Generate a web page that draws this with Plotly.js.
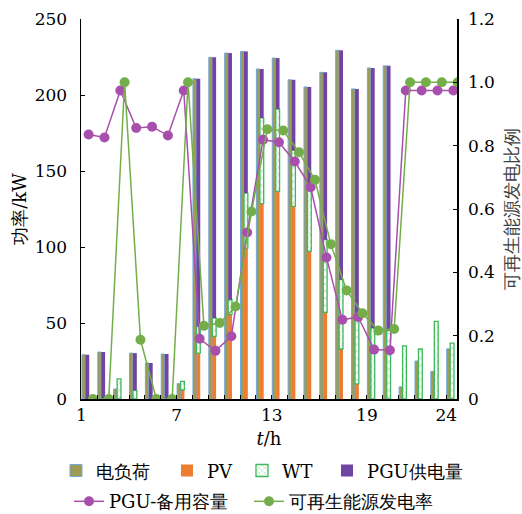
<!DOCTYPE html>
<html>
<head>
<meta charset="utf-8">
<script src="https://cdn.plot.ly/plotly-3.0.1.min.js"></script>
<style>html,body{margin:0;padding:0;background:#fff;}#chart{width:522px;height:514px;}</style>
</head>
<body>
<div id="chart"></div>
<script>
// ---- data ----
const hours = [1,2,3,4,5,6,7,8,9,10,11,12,13,14,15,16,17,18,19,20,21,22,23,24];
const load = [29.1,30.9,6.6,30.2,23.7,29.6,10.1,210.7,224.8,227.6,228.7,217.1,224.3,210.0,205.3,214.9,229.4,204.0,217.8,219.2,8.0,25.0,18.2,33.0];
const pv   = [0,0,0,0,0,0,6.0,30.2,41.2,55.5,99.3,128.5,136.6,126.7,97.1,57.0,32.9,9.9,0,0,0,0,0,0];
const wt   = [0,0,13.2,5.7,0,0,5.6,17.6,12.1,9.8,36.2,56.4,54.2,36.9,43.9,47.8,45.6,43.4,46.7,45.0,35.0,32.9,51.1,36.8];
const pgu  = [29.1,30.9,0,24.5,23.7,29.6,0,162.9,171.5,162.3,93.2,32.2,33.5,46.4,64.3,110.1,150.9,150.7,171.1,174.2,0,0,0,0];
const pguReserve = [0.835,0.826,0.974,0.856,0.860,0.832,0.974,0.190,0.152,0.198,0.526,0.819,0.811,0.750,0.669,0.447,0.250,0.259,0.156,0.154,0.974,0.974,0.974,0.974];
const renewRate  = [0,0,1.0,0.187,0,0,1.0,0.231,0.240,0.292,0.592,0.852,0.848,0.779,0.692,0.489,0.343,0.271,0.216,0.221,1.0,1.0,1.0,1.0];
const xTicks = [1,7,13,19,24];
const y2TickVals = [0,0.2,0.4,0.6,0.8,1.0,1.2];
const y2TickText = ["0","0.2","0.4","0.6","0.8","1.0","1.2"];
const names = ["电负荷","PV","WT","PGU供电量","PGU-备用容量","可再生能源发电率"];

// ---- styling ----
const FONT = "DejaVu Serif";
const FS = 17, LFS = 18;
const loadOff = 0.03, loadW = 0.22, stackOff = 0.25, stackW = 0.24;
const wtBase = pv.map(v=>v);
const pguBase = pv.map((v,i)=>v + wt[i]);
const xPurple = hours.map(h=>h+0.45);
const xGreen = hours.map(h=>h+0.72);

const traces = [
  {type:'bar', name:names[0], x:hours, y:load, offset:loadOff, width:loadW,
   marker:{color:'#A09B52', line:{color:'#6FA8DC', width:1}}, legend:'legend'},
  {type:'bar', name:names[1], x:hours, y:pv, offset:stackOff, width:stackW,
   marker:{color:'#ED7D31', line:{width:0}}, legend:'legend2'},
  {type:'bar', name:names[2], x:hours, y:wt, base:wtBase, offset:stackOff, width:stackW,
   marker:{color:'#ffffff', line:{color:'#3DB85C', width:1.3},
           pattern:{shape:'x', fgcolor:'#A8DDB2', bgcolor:'#ffffff', size:5, solidity:0.25}}, legend:'legend3'},
  {type:'bar', name:names[3], x:hours, y:pgu, base:pguBase, offset:stackOff, width:stackW,
   marker:{color:'#7144A4', line:{width:0}}, legend:'legend4'},
  {type:'scatter', mode:'lines+markers', name:names[4], x:xPurple, y:pguReserve, yaxis:'y2',
   line:{color:'#A84FAE', width:1.5}, marker:{color:'#A84FAE', size:10}, legend:'legend5'},
  {type:'scatter', mode:'lines+markers', name:names[5], x:xGreen, y:renewRate, yaxis:'y2',
   line:{color:'#74AE4A', width:1.5}, marker:{color:'#74AE4A', size:10}, legend:'legend6'}
];

function leg(x, y) {
  return {orientation:'h', x:x, xanchor:'left', y:y, yanchor:'middle',
          font:{family:FONT, size:LFS, color:'#000'}, bgcolor:'rgba(0,0,0,0)', itemwidth:30};
}

const layout = {
  width:522, height:514,
  margin:{l:81, r:65, t:19, b:115, autoexpand:false},
  paper_bgcolor:'#fff', plot_bgcolor:'#fff',
  font:{family:FONT, size:FS, color:'#000'},
  barmode:'overlay',
  showlegend:true,
  xaxis:{range:[0.97,24.68], tickvals:xTicks, ticktext:xTicks.map(String),
         showgrid:false, zeroline:false, showline:true, linecolor:'#000', linewidth:1.5,
         ticks:'inside', ticklen:4, tickcolor:'#000',
         minor:{dtick:1, tick0:1, ticks:'inside', ticklen:4, tickcolor:'#000', showgrid:false},
         title:{text:'<i>t</i>/h', font:{family:FONT, size:18}, standoff:8},
         tickfont:{family:FONT, size:FS}},
  yaxis:{range:[0,250], dtick:50, showgrid:false, zeroline:false, showline:true,
         linecolor:'#000', linewidth:1.5, ticks:'inside', ticklen:4, tickcolor:'#000',
         ticklabelstandoff:9,
         tickfont:{family:FONT, size:FS},
         title:{text:'功率/kW', font:{family:FONT, size:18}, standoff:3}},
  yaxis2:{range:[0,1.2], tickvals:y2TickVals, ticktext:y2TickText, overlaying:'y', side:'right',
          showgrid:false, zeroline:false, showline:true, linecolor:'#000', linewidth:1.5,
          ticks:'inside', ticklen:4, tickcolor:'#000', ticklabelstandoff:6,
          tickfont:{family:FONT, size:FS},
          title:{text:'可再生能源发电比例', font:{family:FONT, size:18, color:'#404040'}, standoff:17}},
  legend:  leg(-0.0665, -0.189),
  legend2: leg(0.2287, -0.189),
  legend3: leg(0.4282, -0.189),
  legend4: leg(0.6543, -0.189),
  legend5: leg(-0.0319, -0.27),
  legend6: leg(0.4468, -0.27)
};

Plotly.newPlot('chart', traces, layout, {staticPlot:true, displayModeBar:false});
</script>
</body>
</html>
